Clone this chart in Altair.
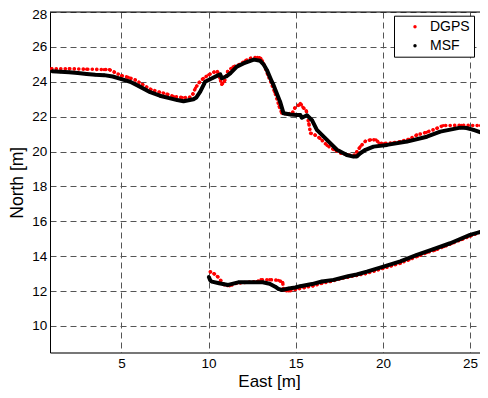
import altair as alt
import pandas as pd

# ---- data ----
msf_up_x = [1.0, 1.5, 2.0, 2.5, 3.0, 3.5, 4.0, 4.5, 5.0, 5.5, 6.0, 6.65, 7.2, 7.8, 8.2, 8.56, 9.13, 9.3,
            9.52, 9.8, 10.2, 10.5, 10.67, 10.76, 11.0, 11.24, 11.62, 12.0, 12.39, 12.6, 12.96, 13.15,
            13.34, 13.63, 13.72, 14.1, 14.3, 14.7, 15.07, 15.26, 15.35, 15.64, 15.93, 16.21, 16.79,
            17.36, 17.93, 18.31, 18.5, 18.7, 19.0, 19.46, 20.23, 21.38, 22.52, 23.29, 24.44, 24.8,
            25.2, 26.03]
msf_up_y = [24.6, 24.58, 24.55, 24.5, 24.45, 24.4, 24.38, 24.3, 24.15, 24.0, 23.75, 23.4, 23.2, 23.05,
            22.95, 22.88, 23.0, 23.1, 23.43, 24.0, 24.2, 24.35, 24.42, 24.2, 24.3, 24.48, 24.87, 25.05,
            25.2, 25.27, 25.2, 25.0, 24.68, 24.0, 23.82, 22.86, 22.19, 22.12, 22.1, 22.1, 21.94, 22.08,
            21.8, 21.24, 20.67, 20.1, 19.8, 19.71, 19.72, 19.9, 20.1, 20.28, 20.38, 20.57, 20.85, 21.14,
            21.37, 21.35, 21.24, 20.95]

dgps_up_x = [1.0, 2.0, 3.0, 4.0, 4.3, 4.6, 5.0, 5.4, 5.8, 6.2, 6.7, 7.2, 7.6, 8.0, 8.5, 8.9, 9.1, 9.25,
             9.45, 9.7, 10.0, 10.3, 10.5, 10.65, 10.75, 10.9, 11.1, 11.4, 11.8, 12.1, 12.4, 12.8, 13.0,
             13.15, 13.4, 13.8, 14.05, 14.2, 14.5, 14.8, 14.95, 15.15, 15.26, 15.4, 15.6, 15.75, 15.85,
             16.1, 16.4, 16.8, 17.2, 17.6, 18.0, 18.4, 18.51, 18.7, 19.0, 19.3, 19.6, 19.8, 20.1, 20.6,
             21.0, 21.5, 21.95, 22.5, 23.1, 23.46, 24.5, 25.6, 26.03]
dgps_up_y = [24.75, 24.75, 24.72, 24.7, 24.7, 24.55, 24.35, 24.25, 24.1, 23.85, 23.55, 23.4, 23.3, 23.15,
             23.1, 23.1, 23.3, 23.65, 23.95, 24.2, 24.4, 24.55, 24.6, 24.2, 23.85, 24.0, 24.6, 24.85,
             25.0, 25.2, 25.35, 25.4, 25.35, 25.05, 24.4, 23.4, 22.6, 22.2, 22.15, 22.2, 22.5, 22.65,
             22.77, 22.55, 22.35, 21.6, 21.05, 20.95, 20.75, 20.35, 20.1, 19.9, 19.8, 19.8, 19.99, 20.28,
             20.6, 20.67, 20.67, 20.47, 20.47, 20.5, 20.57, 20.7, 20.95, 21.1, 21.33, 21.49, 21.5, 21.49,
             21.3]

msf_lo_x = [10.0, 10.1, 10.19, 10.6, 11.12, 11.7, 12.5, 13.1, 13.5, 13.82, 14.0, 14.2, 14.6, 14.97,
            15.26, 15.93, 16.5, 17.17, 18.0, 18.5, 19.08, 20.03, 21.0, 21.95, 22.9, 23.86, 25.0, 25.97]
msf_lo_y = [12.83, 12.6, 12.54, 12.45, 12.35, 12.5, 12.5, 12.5, 12.42, 12.25, 12.12, 12.06, 12.15, 12.2,
            12.28, 12.4, 12.55, 12.64, 12.85, 12.95, 13.11, 13.4, 13.7, 14.07, 14.4, 14.74, 15.22, 15.5]

dgps_lo_x = [10.1, 10.3, 10.5, 10.7, 10.9, 11.2, 11.6, 12.2, 12.8, 13.0, 13.5, 14.0, 14.25, 14.3, 14.6,
             15.0, 15.5, 16.0, 16.5, 17.0, 17.5, 18.0, 18.5, 19.0, 19.5, 20.0, 20.5, 21.0, 21.5, 22.0,
             22.5, 23.0, 23.5, 24.0, 24.5, 25.0, 25.5, 26.0]
dgps_lo_y = [13.1, 13.0, 12.85, 12.6, 12.35, 12.3, 12.45, 12.5, 12.55, 12.65, 12.65, 12.62, 12.5, 12.05,
             12.0, 12.1, 12.2, 12.3, 12.45, 12.55, 12.7, 12.8, 12.9, 13.0, 13.15, 13.3, 13.45, 13.6, 13.8,
             14.0, 14.2, 14.35, 14.55, 14.75, 14.95, 15.15, 15.35, 15.55]

x_ticks = [5, 10, 15, 20, 25]
y_ticks = [10, 12, 14, 16, 18, 20, 22, 24, 26, 28]
series_names = ["DGPS", "MSF"]
series_colors = ["#ff0000", "#000000"]

rows = []
for seg, s, xs, ys in [("dgps_up", "DGPS", dgps_up_x, dgps_up_y),
                       ("dgps_lo", "DGPS", dgps_lo_x, dgps_lo_y),
                       ("msf_up", "MSF", msf_up_x, msf_up_y),
                       ("msf_lo", "MSF", msf_lo_x, msf_lo_y)]:
    for i, (x, y) in enumerate(zip(xs, ys)):
        rows.append({"x": x, "y": y, "series": s, "seg": seg, "i": i})
df = pd.DataFrame(rows)

W, H = 430, 340.5
PX_PER_UNIT = 17.43
X0 = 0.9
Y_TOP = 28
FONT = "Liberation Sans"

xscale = alt.Scale(domain=[X0, X0 + W / PX_PER_UNIT], nice=False, zero=False)
yscale = alt.Scale(domain=[Y_TOP - H / 17.44, Y_TOP], nice=False, zero=False)

x_axis = alt.Axis(values=x_ticks, grid=True, gridDash=[6, 4], gridColor="#555", gridWidth=1,
                  domainColor="black", domainWidth=1, tickSize=0, ticks=False,
                  labelFont=FONT, labelFontSize=13.5, labelColor="black", labelPadding=4.3,
                  labelFlush=False, title="East [m]", titleFont=FONT, titleFontSize=17,
                  titleFontWeight="normal", titleColor="black", titleBaseline="alphabetic",
                  titleAlign="center", titleX=219, titleY=33.8)
y_axis = alt.Axis(values=y_ticks, grid=True, gridDash=[6, 4], gridColor="#555", gridWidth=1,
                  domainColor="black", domainWidth=1, tickSize=0, ticks=False,
                  labelFont=FONT, labelFontSize=13.5, labelColor="black", labelPadding=3.3,
                  labelOffset={"condition": {"test": "datum.value >= 28", "value": 2},
                               "value": 0},
                  labelFlush=False, title="North [m]", titleFont=FONT, titleFontSize=17.5,
                  titleFontWeight="normal", titleColor="black", titleBaseline="alphabetic",
                  titleX=-27.3, titleY=H / 2, titleAngle=270)

legend = alt.Legend(title=None, orient="none", legendX=344, legendY=3.7,
                    direction="vertical", fillColor="white", strokeColor="black",
                    padding=4, symbolType="circle", symbolSize=12, symbolStrokeWidth=0,
                    symbolOffset=10, labelOffset=8, rowPadding=5,
                    labelFont=FONT, labelFontSize=14, labelColor="black")

X = alt.X("x:Q", scale=xscale, axis=x_axis)
Y = alt.Y("y:Q", scale=yscale, axis=y_axis)

line_base = alt.Chart(df).encode(
    x=X, y=Y,
    stroke=alt.Stroke("series:N", scale=alt.Scale(domain=series_names, range=series_colors),
                      legend=None),
    detail="seg:N",
    order="i:Q",
)

red = line_base.transform_filter(alt.datum.series == "DGPS").mark_line(
    strokeDash=[0.1, 4.4], strokeCap="round", strokeWidth=3.6, clip=True)
dots = alt.Chart(df).mark_circle(size=10, opacity=1, clip=True).encode(
    x=X, y=Y,
    color=alt.Color("series:N", scale=alt.Scale(domain=series_names, range=series_colors),
                    legend=legend))
black = line_base.transform_filter(alt.datum.series == "MSF").mark_line(
    strokeWidth=4, strokeJoin="round", clip=True)

top_border = alt.Chart(pd.DataFrame({"a": [0]})).mark_rule(color="black", strokeWidth=1).encode(
    x=alt.value(0), x2=alt.value(W), y=alt.value(0))

chart = alt.layer(red, dots, black, top_border).resolve_scale(color="independent").properties(
    width=W, height=H, autosize="none",
    padding={"left": 42, "top": 4, "right": 0, "bottom": 37.5},
).configure_view(stroke=None).configure(background="white")

chart.save("out.html", embed_options={"renderer": "svg", "actions": False})
